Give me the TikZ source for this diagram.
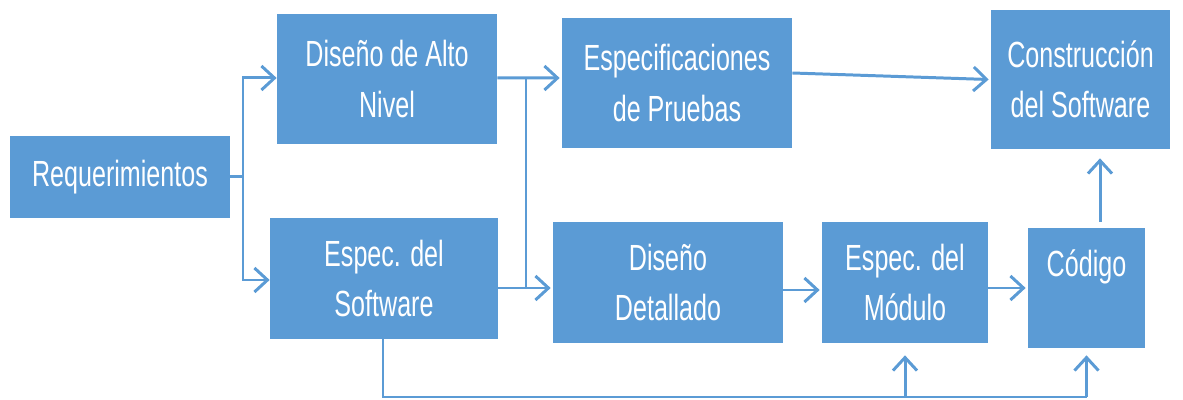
\documentclass[tikz,border=0pt]{standalone}
\usepackage{fontspec}
\setmainfont[FakeStretch=0.69]{Liberation Sans}
\usetikzlibrary{arrows.meta}

\definecolor{azul}{HTML}{5B9BD5}

\tikzstyle{bloque} = [rectangle, fill=azul, text=white, align=center, inner sep=0pt, font=\fontsize{20.7}{28.5}\selectfont]
\tikzstyle{flecha} = [draw=azul, line width=1.7pt, -{Straight Barb[length=0.26cm, width=0.48cm, line width=1.7pt]}]
\tikzstyle{linea} = [draw=azul, line width=1.7pt]

\begin{document}
\begin{tikzpicture}
        \useasboundingbox (0,0) rectangle (23.66,8);
        \node (req) [bloque, minimum width=4.4cm, minimum height=1.64cm] at (2.40,4.46) {Requerimientos};
        \node (alto) [bloque, minimum width=4.4cm, minimum height=2.6cm] at (7.74,6.42) {Diseño de Alto\\Nivel};
        \node (softw) [bloque, minimum width=4.56cm, minimum height=2.42cm] at (7.68,2.43) {Espec. del\\Software};
        \node (pruebas) [bloque, minimum width=4.6cm, minimum height=2.6cm] at (13.54,6.34) {Especificaciones\\de Pruebas};
        \node (constr) [bloque, minimum width=3.58cm, minimum height=2.78cm] at (21.61,6.41) {Construcción\\del Software};
        \node (detalle) [bloque, minimum width=4.6cm, minimum height=2.42cm] at (13.36,2.35) {Diseño\\Detallado};
        \node (modulo) [bloque, minimum width=3.32cm, minimum height=2.42cm] at (18.10,2.35) {Espec. del\\Módulo};
        \node (codigo) [bloque, minimum width=2.34cm, minimum height=2.4cm] at (21.73,2.24) {Código\\\mbox{}};

        \coordinate (ramaA) at (4.86,4.46);
        \coordinate (ramaB) at (10.52,6.44);
        \coordinate (piso) at (7.66,0.06);

        % requerimientos a los dos primeros bloques
        \draw [linea] (req.east) -- (ramaA);
        \draw [flecha] (ramaA) |- ([yshift=0.02cm]alto.west);
        \draw [flecha] (ramaA) |- ([yshift=-0.03cm]softw.west);

        % alto nivel y software
        \draw [flecha] ([yshift=0.02cm]alto.east) -- ([xshift=-0.04cm]ramaB -| pruebas.west);
        \draw [linea] (ramaB) -- (ramaB |- 0,2.24);
        \draw [flecha] (softw.east |- 0,2.24) -- ([xshift=-0.04cm]detalle.west |- 0,2.24);

        \draw [flecha] ([yshift=0.2cm]pruebas.east) -- ([xshift=-0.04cm]constr.west);
        \draw [flecha] ([yshift=-0.15cm]detalle.east) -- ([yshift=-0.15cm, xshift=-0.04cm]modulo.west);
        \draw [flecha] (modulo.east |- codigo) -- ([xshift=-0.04cm]codigo.west);
        \draw [flecha, shorten <=0.12cm, shorten >=0.18cm] ([xshift=0.27cm]codigo.north) -- ([xshift=0.27cm]codigo.north |- constr.south);

        % retorno inferior
        \draw [linea] (softw.south -| piso) -- (piso) -- (piso -| codigo.south);
        \draw [flecha, shorten >=0.24cm] (piso -| modulo.south) -- (modulo.south);
        \draw [flecha, shorten >=0.14cm] (piso -| codigo.south) -- (codigo.south);
    \end{tikzpicture}
\end{document}
